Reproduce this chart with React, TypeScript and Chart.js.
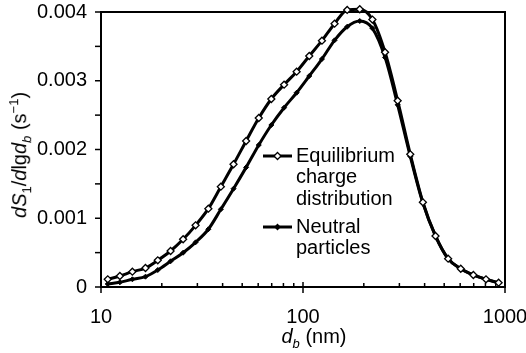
import React, { useEffect, useRef } from "react";
import { Chart, registerables } from "chart.js";

Chart.register(...registerables);

// Particle diameter d_b (nm), 16 channels per decade
const diameters = [
  10.8, 12.4, 14.3, 16.6, 19.1, 22.1, 25.5, 29.4, 34.0, 39.2, 45.3, 52.3, 60.4, 69.7, 80.6, 93.0,
  107.4, 124.1, 143.3, 165.5, 191.0, 220.6, 254.8, 294.2, 339.7, 392.2, 452.9, 523.0, 603.9, 697.3, 805.2, 929.8,
];

const equilibrium = [
  0.000112, 0.00016, 0.000223, 0.000276, 0.000388, 0.000524, 0.000694, 0.000897, 0.001139, 0.001459,
  0.001785, 0.002124, 0.002458, 0.002735, 0.002943, 0.003132, 0.00336, 0.003583, 0.00383, 0.00403,
  0.00404, 0.00389, 0.003414, 0.00271, 0.00193, 0.001232, 0.000742, 0.000412, 0.000266, 0.000175,
  0.000112, 0.0000625,
];

const neutral = [
  0.000044, 0.000068, 0.000112, 0.00015, 0.000247, 0.000374, 0.000499, 0.00065, 0.00084, 0.00113,
  0.00143, 0.00174, 0.002065, 0.002356, 0.002608, 0.002826, 0.003069, 0.003316, 0.003588, 0.003786,
  0.003869, 0.003763, 0.00334, 0.00265, 0.0019, 0.00122, 0.00074, 0.00041, 0.000265, 0.000175,
  0.00011, 0.00006,
];

const xMajorTicks = [10, 100, 1000];
const xTickLabels = ["10", "100", "1000"];
const xMinorTicks = [20, 30, 40, 50, 60, 70, 80, 90, 200, 300, 400, 500, 600, 700, 800, 900];
const yTicks = [0, 0.0005, 0.001, 0.0015, 0.002, 0.0025, 0.003, 0.0035, 0.004];

const legendEquilibrium = ["Equilibrium", "charge", "distribution"];
const legendNeutral = ["Neutral", "particles"];

const FONT = "'Liberation Sans', Arial, Helvetica, sans-serif";

function drawDiamond(ctx: CanvasRenderingContext2D, x: number, y: number, r: number, fill: string) {
  ctx.beginPath();
  ctx.moveTo(x, y - r);
  ctx.lineTo(x + r, y);
  ctx.lineTo(x, y + r);
  ctx.lineTo(x - r, y);
  ctx.closePath();
  ctx.fillStyle = fill;
  ctx.fill();
  ctx.lineWidth = 1.3;
  ctx.strokeStyle = "#000";
  ctx.stroke();
}

const framePlugin = {
  id: "frameAndTicks",
  beforeDatasetsDraw(chart: any) {
    const { ctx, chartArea } = chart;
    const { left, right, top, bottom } = chartArea;
    const xs = chart.scales.x;
    const ys = chart.scales.y;
    ctx.save();
    ctx.strokeStyle = "#000";
    ctx.lineWidth = 2;
    ctx.strokeRect(left, top, right - left, bottom - top);
    // y ticks (outward)
    ctx.lineWidth = 1.5;
    yTicks.forEach((v) => {
      const y = ys.getPixelForValue(v);
      ctx.beginPath();
      ctx.moveTo(left - 6, y);
      ctx.lineTo(left, y);
      ctx.stroke();
    });
    // x major ticks (crossing)
    xMajorTicks.forEach((v) => {
      const x = xs.getPixelForValue(v);
      ctx.beginPath();
      ctx.moveTo(x, bottom - 5);
      ctx.lineTo(x, bottom + 6);
      ctx.stroke();
    });
    // x minor ticks (inward)
    xMinorTicks.forEach((v) => {
      const x = xs.getPixelForValue(v);
      ctx.beginPath();
      ctx.moveTo(x, bottom - 4);
      ctx.lineTo(x, bottom);
      ctx.stroke();
    });
    // x tick labels
    ctx.font = `20px ${FONT}`;
    ctx.fillStyle = "#000";
    ctx.textAlign = "center";
    ctx.textBaseline = "middle";
    xMajorTicks.forEach((v, i) => {
      ctx.fillText(xTickLabels[i], xs.getPixelForValue(v), bottom + 30);
    });
    ctx.restore();
  },
  afterDraw(chart: any) {
    const { ctx, chartArea } = chart;
    const lx0 = chartArea.left + 162;
    const lx1 = chartArea.left + 191;
    const tx = chartArea.left + 195;
    const lineGap = 21.5;
    ctx.save();
    ctx.font = `20px ${FONT}`;
    ctx.fillStyle = "#000";
    ctx.textBaseline = "middle";
    ctx.textAlign = "left";
    const groups = [
      { lines: legendEquilibrium, y: 156, fill: "#fff", r: 3.5 },
      { lines: legendNeutral, y: 227, fill: "#000", r: 2.5 },
    ];
    groups.forEach((g) => {
      ctx.strokeStyle = "#000";
      ctx.lineWidth = 3;
      ctx.beginPath();
      ctx.moveTo(lx0, g.y);
      ctx.lineTo(lx1, g.y);
      ctx.stroke();
      drawDiamond(ctx, (lx0 + lx1) / 2, g.y, g.r, g.fill);
      g.lines.forEach((t, i) => {
        ctx.fillStyle = "#000";
        ctx.fillText(t, tx, g.y + i * lineGap);
      });
    });
    ctx.restore();
  },
};

export default function App() {
  const canvasRef = useRef<HTMLCanvasElement | null>(null);

  useEffect(() => {
    if (!canvasRef.current) return;
    const chart = new Chart(canvasRef.current, {
      type: "line",
      data: {
        datasets: [
          {
            label: "Equilibrium charge distribution",
            data: diameters.map((d, i) => ({ x: d, y: equilibrium[i] })),
            borderColor: "#000",
            borderWidth: 3,
            pointStyle: "rectRot",
            pointRadius: 3.5,
            pointBackgroundColor: "#fff",
            pointBorderColor: "#000",
            pointBorderWidth: 1.3,
            cubicInterpolationMode: "monotone",
            clip: false as any,
          },
          {
            label: "Neutral particles",
            data: diameters.map((d, i) => ({ x: d, y: neutral[i] })),
            borderColor: "#000",
            borderWidth: 3,
            pointStyle: "rectRot",
            pointRadius: 2.5,
            pointBackgroundColor: "#000",
            pointBorderColor: "#000",
            pointBorderWidth: 1,
            cubicInterpolationMode: "monotone",
            clip: false as any,
          },
        ],
      },
      options: {
        animation: false,
        responsive: false,
        events: [],
        layout: { padding: { left: 0, right: 21, top: 12, bottom: 0 } },
        plugins: { legend: { display: false }, tooltip: { enabled: false } },
        scales: {
          x: {
            type: "logarithmic",
            min: 10,
            max: 1000,
            grid: { display: false, drawTicks: false },
            border: { display: false },
            ticks: { display: false },
            afterFit: (s: any) => {
              s.height = 66;
              s.paddingRight = 0;
              s.paddingLeft = 0;
            },
          },
          y: {
            type: "linear",
            min: 0,
            max: 0.004,
            grid: { display: false, drawTicks: false },
            border: { display: false },
            afterFit: (s: any) => {
              s.width = 101;
              s.paddingTop = 0;
              s.paddingBottom = 0;
            },
            ticks: {
              stepSize: 0.001,
              padding: 14,
              color: "#000",
              font: { family: FONT, size: 20 },
              callback: (v: any) => (Number(v) === 0 ? "0" : Number(v).toFixed(3)),
            },
          },
        },
      },
      plugins: [framePlugin],
    });
    return () => chart.destroy();
  }, []);

  const textStyle: React.CSSProperties = {
    position: "absolute",
    fontFamily: FONT,
    fontSize: 20,
    color: "#000",
    whiteSpace: "nowrap",
    lineHeight: 1,
  };

  return (
    <div style={{ position: "absolute", left: 0, top: 0, width: 526, height: 353, background: "#fff", overflow: "hidden" }}>
      <canvas ref={canvasRef} width={526} height={353} style={{ display: "block", width: 526, height: 353 }} />
      <div
        style={{
          ...textStyle,
          left: 20,
          top: 155,
          transform: "translate(-50%, -50%) rotate(-90deg)",
        }}
      >
        <i>d</i><i>S</i><sub style={{ fontSize: 13 }}>1</sub>/<i>d</i>lg<i>d</i>
        <sub style={{ fontSize: 13 }}><i>b</i></sub> (s<sup style={{ fontSize: 13 }}>−1</sup>)
      </div>
      <div
        style={{
          ...textStyle,
          left: 314,
          top: 338,
          transform: "translate(-50%, -50%)",
        }}
      >
        <i>d</i><sub style={{ fontSize: 13 }}><i>b</i></sub> (nm)
      </div>
    </div>
  );
}
